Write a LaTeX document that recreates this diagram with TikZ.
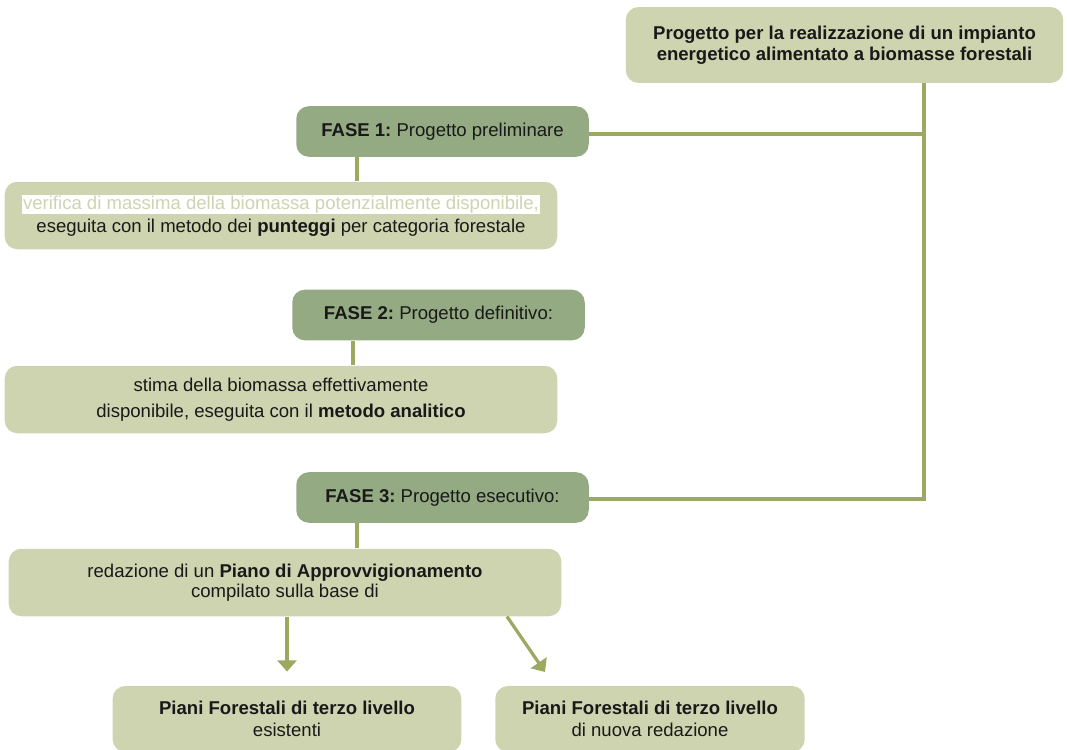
\documentclass[tikz,border=0pt]{standalone}
\usepackage{fontspec}
\setmainfont{Liberation Sans}
\usetikzlibrary{arrows.meta}
\definecolor{pale}{RGB}{207,212,176}
\definecolor{sage}{RGB}{148,170,130}
\definecolor{olive}{RGB}{156,169,96}
\frenchspacing
\begin{document}
\begin{tikzpicture}[x=0.025cm, y=-0.025cm, font=\fontsize{13.2}{14.6}\selectfont,
  box/.style={fill=pale, rounded corners=9pt, align=center, text=black!90, inner sep=0pt},
  fase/.style={box, fill=sage, minimum width=208pt, minimum height=36pt},
  link/.style={draw=olive, line width=2.3pt},
  arr/.style={link, -{Triangle[width=13.5pt, length=8pt]}}]
  \useasboundingbox (0,0) rectangle (1067,750);
  \node[box, minimum width=311pt, minimum height=54pt] (top) at (844.5,45)
    {\textbf{Progetto per la realizzazione di un impianto}\\\textbf{energetico alimentato a biomasse forestali}};
  \node[fase] (fase1) at (442.5,131.5) {\textbf{FASE 1:} Progetto preliminare};
  \node[box, minimum width=393pt, minimum height=48pt] (verif) at (281,215.5)
    {{\setlength{\fboxsep}{0.6pt}\colorbox{white}{\textcolor{pale}{verifica di massima della biomassa potenzialmente disponibile,}}}\\[2pt]eseguita con il metodo dei \textbf{punteggi} per categoria forestale};
  \node[fase] (fase2) at (438.5,315) {\textbf{FASE 2:} Progetto definitivo:};
  \node[box, minimum width=393pt, minimum height=48pt] (stima) at (281,399.5)
    {stima della biomassa effettivamente\\[4pt]disponibile, eseguita con il \textbf{metodo analitico}};
  \node[fase] (fase3) at (442.5,497.5) {\textbf{FASE 3:} Progetto esecutivo:};
  \node[box, minimum width=393pt, minimum height=48pt] (redaz) at (285,582.5)
    {redazione di un \textbf{Piano di Approvvigionamento}\\compilato sulla base di};
  \node[box, minimum width=248pt, minimum height=47pt] (pianiA) at (287,719)
    {\textbf{Piani Forestali di terzo livello}\\[1.5pt]esistenti};
  \node[box, minimum width=220pt, minimum height=47pt] (pianiB) at (650,719)
    {\textbf{Piani Forestali di terzo livello}\\[1.5pt]di nuova redazione};
  \coordinate (j3) at (924,499);
  \coordinate (tipB) at (545,672);
  % connectors
  \draw[link] (top.south -| j3) -- (j3) -- (fase3.east |- j3);
  \draw[link] ([yshift=-1.8pt]fase1.east) -| (j3);
  \draw[link] (fase1.south -| 357,0) -- (verif.north -| 357,0);
  \draw[link] (fase2.south -| 353,0) -- (stima.north -| 353,0);
  \draw[link] (fase3.south -| 357,0) -- (redaz.north -| 357,0);
  \draw[arr, shorten >=10pt] (redaz.south -| pianiA.north) -- (pianiA.north);
  \draw[arr] (redaz.south -| 507,0) -- (tipB);
\end{tikzpicture}
\end{document}
